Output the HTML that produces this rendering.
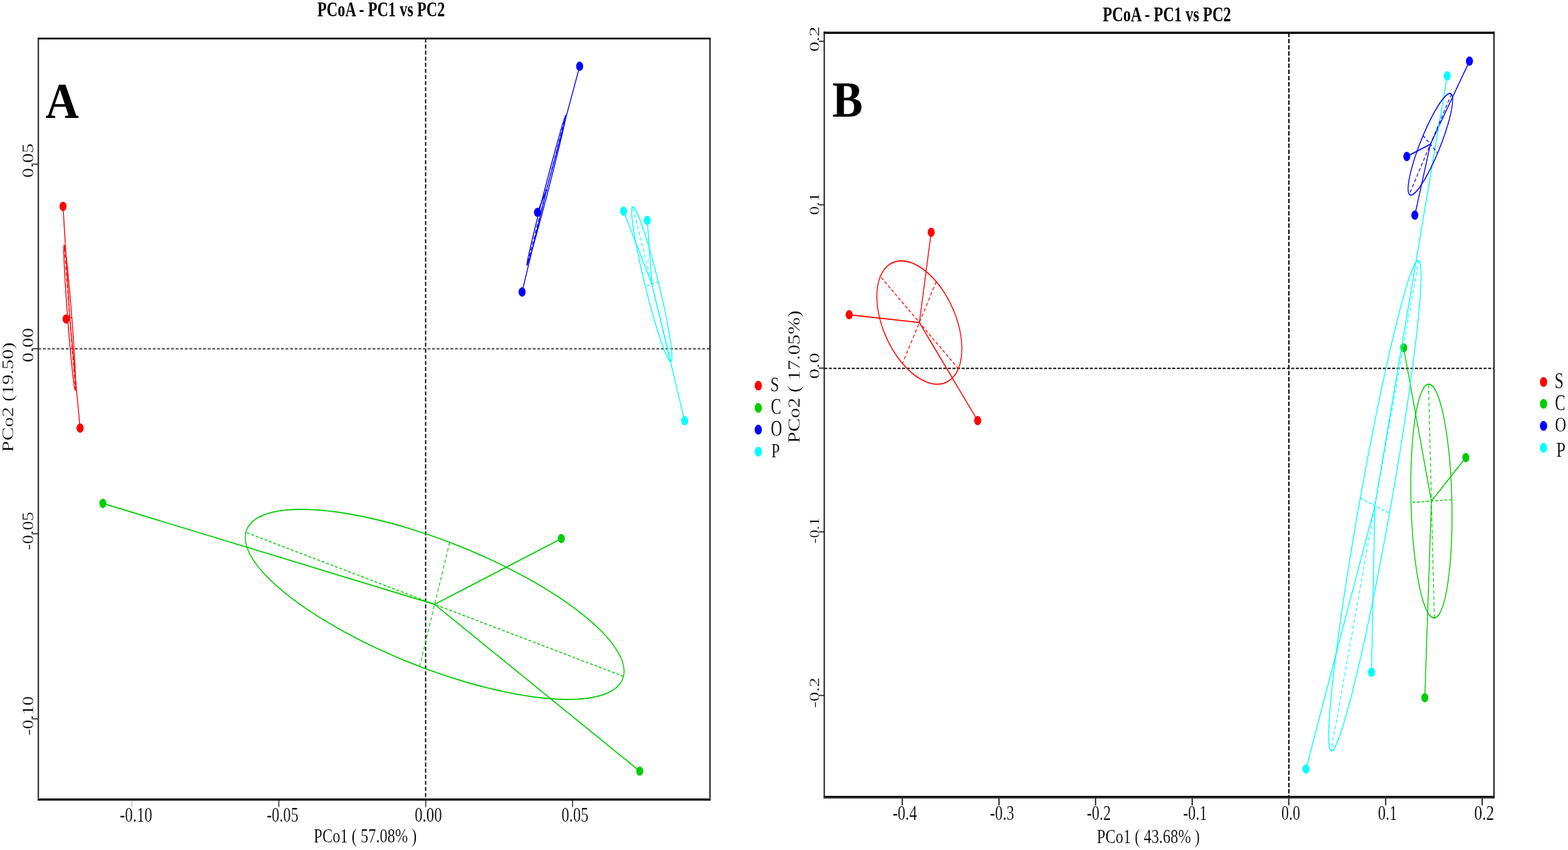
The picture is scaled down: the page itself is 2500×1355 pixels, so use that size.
<!DOCTYPE html>
<html lang="en">
<head>
<meta charset="utf-8">
<title>PCoA - PC1 vs PC2</title>
<style>
html,body{margin:0;padding:0;background:#ffffff;}
body{width:2500px;height:1355px;overflow:hidden;}
svg{display:block;}
</style>
</head>
<body>
<svg width="2500" height="1355" viewBox="0 0 2500 1355">
<rect x="0" y="0" width="2500" height="1355" fill="#ffffff"/>
<g>
<line x1="678.6" y1="61.3" x2="678.6" y2="1274.4" stroke="#000" stroke-width="1.9" stroke-dasharray="6.4 3.3"/>
<line x1="61.1" y1="556.0" x2="1132.0" y2="556.0" stroke="#5c5c5c" stroke-width="2.3" stroke-dasharray="4.5 2.8"/>
<g transform="scale(1 1.32)" fill="none" stroke-width="1.45">
<circle cx="100.5" cy="249.24" r="5.6" fill="#ff0000"/>
<circle cx="105.4" cy="385.30" r="5.6" fill="#ff0000"/>
<circle cx="127.7" cy="517.05" r="5.6" fill="#ff0000"/>
<circle cx="164.0" cy="607.95" r="5.6" fill="#00cd00"/>
<circle cx="895.0" cy="650.45" r="5.6" fill="#00cd00"/>
<circle cx="1020.0" cy="931.29" r="5.6" fill="#00cd00"/>
<circle cx="924.2" cy="80.08" r="5.6" fill="#0000ff"/>
<circle cx="856.9" cy="256.52" r="5.6" fill="#0000ff"/>
<circle cx="832.4" cy="352.65" r="5.6" fill="#0000ff"/>
<circle cx="994.2" cy="255.00" r="5.6" fill="#00ffff"/>
<circle cx="1032.0" cy="266.14" r="5.6" fill="#00ffff"/>
<circle cx="1091.6" cy="508.11" r="5.6" fill="#00ffff"/>
<line x1="111.2" y1="383.86" x2="100.5" y2="249.24" stroke="#ff0000"/>
<line x1="111.2" y1="383.86" x2="105.4" y2="385.30" stroke="#ff0000"/>
<line x1="111.2" y1="383.86" x2="127.7" y2="517.05" stroke="#ff0000"/>
<line x1="693.0" y1="729.90" x2="164.0" y2="607.95" stroke="#00cd00"/>
<line x1="693.0" y1="729.90" x2="895.0" y2="650.45" stroke="#00cd00"/>
<line x1="693.0" y1="729.90" x2="1020.0" y2="931.29" stroke="#00cd00"/>
<line x1="871.2" y1="229.75" x2="924.2" y2="80.08" stroke="#0000ff"/>
<line x1="871.2" y1="229.75" x2="856.9" y2="256.52" stroke="#0000ff"/>
<line x1="871.2" y1="229.75" x2="832.4" y2="352.65" stroke="#0000ff"/>
<line x1="1039.3" y1="343.08" x2="994.2" y2="255.00" stroke="#00ffff"/>
<line x1="1039.3" y1="343.08" x2="1032.0" y2="266.14" stroke="#00ffff"/>
<line x1="1039.3" y1="343.08" x2="1091.6" y2="508.11" stroke="#00ffff"/>
<path d="M120.1 471.33 L120.2 471.20 L120.4 470.82 L120.5 470.21 L120.6 469.36 L120.6 468.27 L120.7 466.96 L120.7 465.41 L120.7 463.64 L120.6 461.66 L120.5 459.46 L120.4 457.05 L120.3 454.45 L120.2 451.65 L120.0 448.66 L119.8 445.50 L119.6 442.16 L119.4 438.67 L119.1 435.03 L118.8 431.25 L118.5 427.33 L118.2 423.30 L117.8 419.16 L117.5 414.92 L117.1 410.60 L116.7 406.21 L116.3 401.75 L115.9 397.24 L115.4 392.70 L115.0 388.14 L114.5 383.56 L114.1 378.98 L113.6 374.42 L113.1 369.88 L112.6 365.38 L112.1 360.93 L111.6 356.54 L111.1 352.23 L110.6 348.01 L110.1 343.88 L109.7 339.86 L109.2 335.97 L108.7 332.20 L108.2 328.58 L107.7 325.11 L107.3 321.80 L106.8 318.66 L106.4 315.70 L106.0 312.92 L105.6 310.34 L105.2 307.96 L104.8 305.79 L104.5 303.83 L104.1 302.10 L103.8 300.58 L103.5 299.30 L103.2 298.24 L103.0 297.43 L102.7 296.84 L102.5 296.50 L102.3 296.40 L102.2 296.53 L102.0 296.91 L101.9 297.52 L101.8 298.37 L101.8 299.46 L101.7 300.77 L101.7 302.32 L101.7 304.08 L101.8 306.07 L101.9 308.27 L102.0 310.67 L102.1 313.28 L102.2 316.08 L102.4 319.07 L102.6 322.23 L102.8 325.56 L103.0 329.06 L103.3 332.70 L103.6 336.48 L103.9 340.40 L104.2 344.43 L104.6 348.57 L104.9 352.80 L105.3 357.13 L105.7 361.52 L106.1 365.98 L106.5 370.48 L107.0 375.03 L107.4 379.59 L107.9 384.17 L108.3 388.75 L108.8 393.31 L109.3 397.85 L109.8 402.35 L110.3 406.80 L110.8 411.18 L111.3 415.49 L111.8 419.72 L112.3 423.85 L112.7 427.86 L113.2 431.76 L113.7 435.52 L114.2 439.15 L114.7 442.62 L115.1 445.93 L115.6 449.07 L116.0 452.03 L116.4 454.81 L116.8 457.39 L117.2 459.77 L117.6 461.94 L117.9 463.89 L118.3 465.63 L118.6 467.14 L118.9 468.43 L119.2 469.48 L119.4 470.30 L119.7 470.88 L119.9 471.23Z" stroke="#ff0000"/>
<line x1="120.1" y1="471.33" x2="102.3" y2="296.40" stroke="#ff0000" stroke-width="1.23" stroke-dasharray="4.4 2.9"/>
<line x1="114.5" y1="383.56" x2="107.9" y2="384.17" stroke="#ff0000" stroke-width="1.23" stroke-dasharray="4.4 2.9"/>
<path d="M994.1 816.84 L994.9 812.80 L994.9 808.53 L994.1 804.05 L992.5 799.36 L990.0 794.49 L986.7 789.43 L982.6 784.22 L977.8 778.85 L972.1 773.35 L965.7 767.73 L958.5 762.01 L950.6 756.20 L942.0 750.32 L932.7 744.38 L922.8 738.40 L912.2 732.40 L901.0 726.39 L889.3 720.39 L877.0 714.42 L864.2 708.49 L851.0 702.62 L837.3 696.82 L823.2 691.11 L808.7 685.51 L794.0 680.04 L778.9 674.69 L763.7 669.50 L748.2 664.48 L732.6 659.63 L716.9 654.98 L701.1 650.53 L685.3 646.30 L669.5 642.30 L653.7 638.54 L638.1 635.03 L622.7 631.78 L607.4 628.80 L592.3 626.10 L577.6 623.68 L563.1 621.55 L549.0 619.72 L535.3 618.19 L522.1 616.96 L509.3 616.05 L497.0 615.45 L485.2 615.16 L474.0 615.19 L463.5 615.53 L453.5 616.18 L444.2 617.15 L435.6 618.42 L427.7 620.00 L420.5 621.89 L414.0 624.06 L408.4 626.53 L403.5 629.28 L399.4 632.31 L396.1 635.60 L393.6 639.16 L391.9 642.96 L391.1 647.00 L391.1 651.27 L391.9 655.75 L393.5 660.44 L396.0 665.31 L399.3 670.37 L403.4 675.58 L408.2 680.95 L413.9 686.45 L420.3 692.07 L427.5 697.79 L435.4 703.60 L444.0 709.48 L453.3 715.42 L463.2 721.40 L473.8 727.40 L485.0 733.41 L496.7 739.41 L509.0 745.38 L521.8 751.31 L535.0 757.18 L548.7 762.98 L562.8 768.68 L577.3 774.28 L592.0 779.76 L607.1 785.10 L622.3 790.29 L637.8 795.32 L653.4 800.16 L669.1 804.82 L684.9 809.26 L700.7 813.49 L716.5 817.49 L732.3 821.25 L747.9 824.77 L763.3 828.02 L778.6 831.00 L793.7 833.70 L808.4 836.12 L822.9 838.25 L837.0 840.08 L850.7 841.61 L863.9 842.83 L876.7 843.75 L889.0 844.35 L900.8 844.64 L912.0 844.61 L922.5 844.27 L932.5 843.62 L941.8 842.65 L950.4 841.37 L958.3 839.79 L965.5 837.91 L972.0 835.73 L977.6 833.27 L982.5 830.51 L986.6 827.49 L989.9 824.19 L992.4 820.64Z" stroke="#00cd00"/>
<line x1="994.1" y1="816.84" x2="391.9" y2="642.96" stroke="#00cd00" stroke-width="1.23" stroke-dasharray="4.4 2.9"/>
<line x1="716.9" y1="654.98" x2="669.1" y2="804.82" stroke="#00cd00" stroke-width="1.23" stroke-dasharray="4.4 2.9"/>
<path d="M902.1 139.45 L901.9 139.53 L901.7 139.86 L901.3 140.43 L900.9 141.25 L900.4 142.31 L899.8 143.62 L899.1 145.15 L898.4 146.92 L897.5 148.92 L896.6 151.14 L895.7 153.57 L894.6 156.21 L893.5 159.06 L892.4 162.09 L891.2 165.32 L889.9 168.72 L888.6 172.28 L887.2 176.01 L885.8 179.88 L884.3 183.89 L882.9 188.02 L881.3 192.27 L879.8 196.62 L878.2 201.06 L876.6 205.58 L875.0 210.17 L873.4 214.81 L871.8 219.49 L870.1 224.20 L868.5 228.93 L866.9 233.65 L865.3 238.37 L863.7 243.06 L862.1 247.72 L860.6 252.32 L859.1 256.87 L857.6 261.34 L856.2 265.72 L854.8 270.01 L853.4 274.18 L852.1 278.24 L850.8 282.16 L849.6 285.93 L848.5 289.56 L847.4 293.02 L846.4 296.30 L845.5 299.40 L844.6 302.32 L843.8 305.03 L843.1 307.54 L842.4 309.83 L841.8 311.90 L841.3 313.75 L840.9 315.37 L840.6 316.76 L840.4 317.90 L840.2 318.80 L840.1 319.46 L840.1 319.88 L840.2 320.05 L840.4 319.96 L840.7 319.64 L841.0 319.06 L841.5 318.24 L842.0 317.18 L842.6 315.88 L843.2 314.34 L844.0 312.57 L844.8 310.58 L845.7 308.36 L846.7 305.93 L847.7 303.28 L848.8 300.44 L849.9 297.40 L851.2 294.18 L852.4 290.78 L853.8 287.21 L855.1 283.49 L856.5 279.62 L858.0 275.61 L859.5 271.47 L861.0 267.23 L862.6 262.87 L864.1 258.43 L865.7 253.91 L867.3 249.33 L868.9 244.69 L870.6 240.00 L872.2 235.29 L873.8 230.57 L875.4 225.84 L877.0 221.13 L878.6 216.43 L880.2 211.78 L881.7 207.17 L883.2 202.63 L884.7 198.16 L886.2 193.77 L887.6 189.49 L888.9 185.31 L890.2 181.26 L891.5 177.34 L892.7 173.56 L893.8 169.94 L894.9 166.48 L895.9 163.19 L896.9 160.09 L897.8 157.18 L898.6 154.47 L899.3 151.96 L899.9 149.66 L900.5 147.59 L901.0 145.74 L901.4 144.12 L901.7 142.74 L902.0 141.59 L902.1 140.69 L902.2 140.03 L902.2 139.62Z" stroke="#0000ff"/>
<line x1="902.1" y1="139.45" x2="840.2" y2="320.05" stroke="#0000ff" stroke-width="1.23" stroke-dasharray="4.4 2.9"/>
<line x1="868.5" y1="228.93" x2="873.8" y2="230.57" stroke="#0000ff" stroke-width="1.23" stroke-dasharray="4.4 2.9"/>
<path d="M1069.7 436.46 L1070.2 436.17 L1070.6 435.63 L1070.9 434.83 L1071.1 433.79 L1071.3 432.49 L1071.3 430.95 L1071.3 429.17 L1071.2 427.16 L1071.0 424.91 L1070.7 422.44 L1070.3 419.75 L1069.9 416.85 L1069.3 413.75 L1068.7 410.46 L1068.0 406.98 L1067.2 403.32 L1066.3 399.50 L1065.4 395.53 L1064.4 391.41 L1063.3 387.16 L1062.2 382.79 L1061.0 378.31 L1059.7 373.73 L1058.4 369.07 L1057.0 364.34 L1055.6 359.55 L1054.1 354.71 L1052.6 349.84 L1051.1 344.96 L1049.5 340.07 L1047.9 335.18 L1046.2 330.32 L1044.6 325.50 L1042.9 320.72 L1041.3 316.00 L1039.6 311.36 L1037.9 306.81 L1036.2 302.35 L1034.6 298.00 L1032.9 293.78 L1031.3 289.70 L1029.7 285.76 L1028.1 281.98 L1026.5 278.36 L1025.0 274.92 L1023.5 271.67 L1022.1 268.62 L1020.7 265.77 L1019.3 263.13 L1018.0 260.71 L1016.8 258.52 L1015.6 256.55 L1014.5 254.83 L1013.5 253.35 L1012.5 252.11 L1011.6 251.12 L1010.8 250.38 L1010.1 249.90 L1009.4 249.68 L1008.9 249.71 L1008.4 249.99 L1008.0 250.53 L1007.6 251.33 L1007.4 252.37 L1007.3 253.67 L1007.2 255.21 L1007.2 256.99 L1007.3 259.00 L1007.5 261.25 L1007.8 263.72 L1008.2 266.41 L1008.7 269.31 L1009.2 272.41 L1009.8 275.71 L1010.5 279.19 L1011.3 282.84 L1012.2 286.66 L1013.1 290.63 L1014.1 294.75 L1015.2 299.00 L1016.4 303.37 L1017.6 307.85 L1018.8 312.43 L1020.2 317.09 L1021.5 321.82 L1023.0 326.61 L1024.4 331.45 L1025.9 336.32 L1027.5 341.20 L1029.1 346.09 L1030.7 350.98 L1032.3 355.84 L1033.9 360.66 L1035.6 365.44 L1037.3 370.16 L1039.0 374.80 L1040.6 379.36 L1042.3 383.81 L1044.0 388.16 L1045.6 392.38 L1047.3 396.46 L1048.9 400.40 L1050.5 404.19 L1052.0 407.80 L1053.5 411.24 L1055.0 414.49 L1056.5 417.54 L1057.9 420.39 L1059.2 423.03 L1060.5 425.45 L1061.7 427.65 L1062.9 429.61 L1064.0 431.33 L1065.0 432.82 L1066.0 434.05 L1066.9 435.04 L1067.7 435.78 L1068.4 436.26 L1069.1 436.49Z" stroke="#00ffff"/>
<line x1="1069.7" y1="436.46" x2="1008.9" y2="249.71" stroke="#00ffff" stroke-width="1.23" stroke-dasharray="4.4 2.9"/>
<line x1="1049.5" y1="340.07" x2="1029.1" y2="346.09" stroke="#00ffff" stroke-width="1.23" stroke-dasharray="4.4 2.9"/>
</g>
<line x1="61.1" y1="60.0" x2="61.1" y2="1276.2" stroke="#333" stroke-width="2.3"/>
<line x1="1132.0" y1="60.0" x2="1132.0" y2="1276.2" stroke="#1c1c1c" stroke-width="2.1"/>
<line x1="60.1" y1="61.3" x2="1133.1" y2="61.3" stroke="#000" stroke-width="2.8"/>
<line x1="60.1" y1="1272.7" x2="1133.1" y2="1272.7" stroke="#808080" stroke-width="1.4"/>
<line x1="60.1" y1="1274.9" x2="1133.1" y2="1274.9" stroke="#000" stroke-width="2.8"/>
<line x1="210.3" y1="1276" x2="210.3" y2="1286.6" stroke="#c4c4c4" stroke-width="1.6"/>
<line x1="444.6" y1="1276" x2="444.6" y2="1286.6" stroke="#333" stroke-width="1.6"/>
<line x1="678.7" y1="1276" x2="678.7" y2="1286.6" stroke="#333" stroke-width="1.6"/>
<line x1="912.8" y1="1276" x2="912.8" y2="1286.6" stroke="#333" stroke-width="1.6"/>
<line x1="50.5" y1="261.6" x2="61" y2="261.6" stroke="#333" stroke-width="1.8"/>
<line x1="50.5" y1="555.8" x2="61" y2="555.8" stroke="#333" stroke-width="1.8"/>
<line x1="50.5" y1="850.9" x2="61" y2="850.9" stroke="#333" stroke-width="1.8"/>
<line x1="50.5" y1="1145.9" x2="61" y2="1145.9" stroke="#333" stroke-width="1.8"/>
<ellipse cx="1209" cy="614.8" rx="5.8" ry="7.8" fill="#ff0000"/>
<ellipse cx="1209" cy="650.2" rx="5.8" ry="7.8" fill="#00cd00"/>
<ellipse cx="1209" cy="684.9" rx="5.8" ry="7.8" fill="#0000ff"/>
<ellipse cx="1209" cy="720.1" rx="5.8" ry="7.8" fill="#00ffff"/>
</g>
<g>
<line x1="2055.0" y1="52.3" x2="2055.0" y2="1271.0" stroke="#000" stroke-width="2.0" stroke-dasharray="7 2.8"/>
<line x1="1314.2" y1="587.2" x2="2382.0" y2="587.2" stroke="#000" stroke-width="2.0" stroke-dasharray="4.8 2.5"/>
<g transform="scale(1 1.32)" fill="none" stroke-width="1.45">
<circle cx="1484.7" cy="280.53" r="5.6" fill="#ff0000"/>
<circle cx="1353.9" cy="380.08" r="5.6" fill="#ff0000"/>
<circle cx="1558.8" cy="507.95" r="5.6" fill="#ff0000"/>
<circle cx="2238.0" cy="420.15" r="5.6" fill="#00cd00"/>
<circle cx="2337.0" cy="552.58" r="5.6" fill="#00cd00"/>
<circle cx="2271.7" cy="842.65" r="5.6" fill="#00cd00"/>
<circle cx="2342.9" cy="73.79" r="5.6" fill="#0000ff"/>
<circle cx="2243.0" cy="189.02" r="5.6" fill="#0000ff"/>
<circle cx="2255.8" cy="259.85" r="5.6" fill="#0000ff"/>
<circle cx="2307.4" cy="91.67" r="5.6" fill="#00ffff"/>
<circle cx="2186.7" cy="811.89" r="5.6" fill="#00ffff"/>
<circle cx="2082.2" cy="928.71" r="5.6" fill="#00ffff"/>
<line x1="1465.8" y1="389.52" x2="1484.7" y2="280.53" stroke="#ff0000"/>
<line x1="1465.8" y1="389.52" x2="1353.9" y2="380.08" stroke="#ff0000"/>
<line x1="1465.8" y1="389.52" x2="1558.8" y2="507.95" stroke="#ff0000"/>
<line x1="2282.2" y1="605.13" x2="2238.0" y2="420.15" stroke="#00cd00"/>
<line x1="2282.2" y1="605.13" x2="2337.0" y2="552.58" stroke="#00cd00"/>
<line x1="2282.2" y1="605.13" x2="2271.7" y2="842.65" stroke="#00cd00"/>
<line x1="2280.6" y1="174.22" x2="2342.9" y2="73.79" stroke="#0000ff"/>
<line x1="2280.6" y1="174.22" x2="2243.0" y2="189.02" stroke="#0000ff"/>
<line x1="2280.6" y1="174.22" x2="2255.8" y2="259.85" stroke="#0000ff"/>
<line x1="2192.1" y1="610.76" x2="2307.4" y2="91.67" stroke="#00ffff"/>
<line x1="2192.1" y1="610.76" x2="2186.7" y2="811.89" stroke="#00ffff"/>
<line x1="2192.1" y1="610.76" x2="2082.2" y2="928.71" stroke="#00ffff"/>
<path d="M1528.0 445.27 L1529.3 442.61 L1530.5 439.80 L1531.4 436.86 L1532.2 433.78 L1532.8 430.59 L1533.3 427.28 L1533.5 423.87 L1533.6 420.37 L1533.4 416.78 L1533.1 413.11 L1532.6 409.38 L1531.9 405.60 L1531.1 401.77 L1530.0 397.91 L1528.8 394.03 L1527.4 390.13 L1525.9 386.23 L1524.2 382.34 L1522.3 378.47 L1520.2 374.63 L1518.0 370.84 L1515.7 367.09 L1513.2 363.40 L1510.6 359.79 L1507.9 356.26 L1505.1 352.82 L1502.1 349.47 L1499.1 346.24 L1496.0 343.13 L1492.7 340.15 L1489.5 337.30 L1486.1 334.59 L1482.7 332.03 L1479.2 329.63 L1475.7 327.40 L1472.2 325.34 L1468.7 323.45 L1465.1 321.74 L1461.6 320.22 L1458.0 318.89 L1454.5 317.75 L1451.1 316.81 L1447.6 316.07 L1444.2 315.53 L1440.9 315.19 L1437.6 315.05 L1434.4 315.12 L1431.3 315.40 L1428.3 315.88 L1425.4 316.55 L1422.6 317.43 L1420.0 318.51 L1417.4 319.78 L1415.0 321.24 L1412.7 322.89 L1410.6 324.73 L1408.6 326.74 L1406.8 328.92 L1405.1 331.27 L1403.6 333.77 L1402.3 336.43 L1401.1 339.24 L1400.2 342.18 L1399.4 345.26 L1398.8 348.45 L1398.3 351.76 L1398.1 355.17 L1398.0 358.68 L1398.2 362.26 L1398.5 365.93 L1399.0 369.66 L1399.7 373.44 L1400.5 377.27 L1401.6 381.13 L1402.8 385.01 L1404.2 388.91 L1405.7 392.81 L1407.4 396.70 L1409.3 400.57 L1411.4 404.41 L1413.6 408.20 L1415.9 411.95 L1418.4 415.64 L1421.0 419.25 L1423.7 422.78 L1426.5 426.23 L1429.5 429.57 L1432.5 432.80 L1435.6 435.91 L1438.9 438.89 L1442.1 441.74 L1445.5 444.45 L1448.9 447.01 L1452.4 449.41 L1455.9 451.64 L1459.4 453.70 L1462.9 455.59 L1466.5 457.30 L1470.0 458.82 L1473.6 460.15 L1477.1 461.29 L1480.5 462.23 L1484.0 462.97 L1487.4 463.51 L1490.7 463.85 L1494.0 463.99 L1497.2 463.92 L1500.3 463.64 L1503.3 463.16 L1506.2 462.49 L1509.0 461.61 L1511.6 460.53 L1514.2 459.26 L1516.6 457.80 L1518.9 456.15 L1521.0 454.31 L1523.0 452.30 L1524.8 450.12 L1526.5 447.77Z" stroke="#ff0000"/>
<line x1="1528.0" y1="445.27" x2="1403.6" y2="333.77" stroke="#ff0000" stroke-width="1.23" stroke-dasharray="4.4 2.9"/>
<line x1="1492.7" y1="340.15" x2="1438.9" y2="438.89" stroke="#ff0000" stroke-width="1.23" stroke-dasharray="4.4 2.9"/>
<path d="M2286.9 746.27 L2288.6 745.98 L2290.3 745.31 L2291.9 744.26 L2293.5 742.82 L2295.1 741.00 L2296.7 738.82 L2298.2 736.26 L2299.7 733.35 L2301.1 730.09 L2302.5 726.48 L2303.9 722.54 L2305.1 718.28 L2306.3 713.71 L2307.5 708.84 L2308.5 703.69 L2309.5 698.26 L2310.4 692.58 L2311.3 686.67 L2312.1 680.52 L2312.7 674.18 L2313.3 667.64 L2313.9 660.93 L2314.3 654.07 L2314.6 647.07 L2314.9 639.96 L2315.0 632.75 L2315.1 625.47 L2315.1 618.13 L2315.0 610.76 L2314.8 603.37 L2314.5 595.98 L2314.1 588.62 L2313.7 581.31 L2313.1 574.06 L2312.5 566.90 L2311.8 559.84 L2311.0 552.90 L2310.1 546.11 L2309.1 539.48 L2308.1 533.03 L2307.0 526.78 L2305.8 520.74 L2304.6 514.94 L2303.3 509.38 L2302.0 504.08 L2300.6 499.06 L2299.1 494.33 L2297.6 489.91 L2296.1 485.80 L2294.5 482.01 L2292.9 478.57 L2291.2 475.47 L2289.6 472.73 L2287.9 470.35 L2286.2 468.34 L2284.5 466.70 L2282.7 465.45 L2281.0 464.57 L2279.3 464.08 L2277.6 463.98 L2275.9 464.27 L2274.2 464.94 L2272.6 466.00 L2270.9 467.43 L2269.3 469.25 L2267.8 471.43 L2266.2 473.99 L2264.8 476.90 L2263.3 480.17 L2261.9 483.77 L2260.6 487.71 L2259.3 491.97 L2258.1 496.54 L2257.0 501.41 L2255.9 506.57 L2254.9 511.99 L2254.0 517.67 L2253.2 523.59 L2252.4 529.73 L2251.7 536.08 L2251.1 542.62 L2250.6 549.32 L2250.2 556.19 L2249.8 563.18 L2249.6 570.29 L2249.4 577.50 L2249.4 584.78 L2249.4 592.12 L2249.5 599.49 L2249.7 606.88 L2250.0 614.27 L2250.3 621.63 L2250.8 628.94 L2251.4 636.19 L2252.0 643.35 L2252.7 650.41 L2253.5 657.35 L2254.4 664.14 L2255.3 670.77 L2256.4 677.22 L2257.5 683.47 L2258.6 689.51 L2259.9 695.32 L2261.2 700.88 L2262.5 706.17 L2263.9 711.19 L2265.4 715.92 L2266.9 720.35 L2268.4 724.46 L2270.0 728.24 L2271.6 731.68 L2273.2 734.78 L2274.9 737.52 L2276.6 739.90 L2278.3 741.91 L2280.0 743.55 L2281.7 744.81 L2283.4 745.68 L2285.2 746.17Z" stroke="#00cd00"/>
<line x1="2286.9" y1="746.27" x2="2277.6" y2="463.98" stroke="#00cd00" stroke-width="1.23" stroke-dasharray="4.4 2.9"/>
<line x1="2314.8" y1="603.37" x2="2249.7" y2="606.88" stroke="#00cd00" stroke-width="1.23" stroke-dasharray="4.4 2.9"/>
<path d="M2314.1 113.79 L2313.5 113.32 L2312.7 113.02 L2311.9 112.88 L2311.0 112.92 L2310.0 113.12 L2308.9 113.49 L2307.8 114.02 L2306.5 114.72 L2305.2 115.59 L2303.9 116.61 L2302.4 117.79 L2300.9 119.13 L2299.4 120.61 L2297.8 122.25 L2296.1 124.03 L2294.4 125.94 L2292.7 127.99 L2290.9 130.16 L2289.2 132.45 L2287.3 134.86 L2285.5 137.38 L2283.7 140.00 L2281.8 142.71 L2279.9 145.51 L2278.1 148.38 L2276.2 151.33 L2274.4 154.34 L2272.6 157.40 L2270.8 160.51 L2269.0 163.66 L2267.3 166.84 L2265.6 170.04 L2263.9 173.24 L2262.3 176.46 L2260.7 179.66 L2259.2 182.85 L2257.7 186.02 L2256.3 189.15 L2255.0 192.25 L2253.8 195.29 L2252.6 198.28 L2251.5 201.20 L2250.5 204.04 L2249.5 206.81 L2248.6 209.48 L2247.9 212.06 L2247.2 214.53 L2246.6 216.90 L2246.1 219.15 L2245.7 221.27 L2245.4 223.27 L2245.2 225.13 L2245.1 226.85 L2245.1 228.42 L2245.1 229.85 L2245.3 231.13 L2245.6 232.25 L2246.0 233.21 L2246.4 234.01 L2247.0 234.64 L2247.6 235.11 L2248.4 235.42 L2249.2 235.55 L2250.1 235.52 L2251.1 235.32 L2252.2 234.95 L2253.4 234.41 L2254.6 233.71 L2255.9 232.85 L2257.3 231.83 L2258.7 230.64 L2260.2 229.31 L2261.8 227.82 L2263.4 226.19 L2265.0 224.41 L2266.7 222.49 L2268.4 220.45 L2270.2 218.27 L2272.0 215.98 L2273.8 213.57 L2275.6 211.05 L2277.5 208.44 L2279.3 205.73 L2281.2 202.93 L2283.0 200.05 L2284.9 197.10 L2286.7 194.09 L2288.6 191.03 L2290.4 187.92 L2292.1 184.77 L2293.9 181.60 L2295.6 178.40 L2297.2 175.19 L2298.9 171.98 L2300.4 168.77 L2301.9 165.58 L2303.4 162.42 L2304.8 159.28 L2306.1 156.19 L2307.4 153.14 L2308.6 150.16 L2309.7 147.24 L2310.7 144.39 L2311.6 141.63 L2312.5 138.95 L2313.3 136.37 L2313.9 133.90 L2314.5 131.54 L2315.0 129.29 L2315.4 127.16 L2315.7 125.17 L2315.9 123.31 L2316.1 121.59 L2316.1 120.01 L2316.0 118.58 L2315.8 117.31 L2315.5 116.19 L2315.2 115.23 L2314.7 114.43Z" stroke="#0000ff"/>
<line x1="2314.1" y1="113.79" x2="2247.0" y2="234.64" stroke="#0000ff" stroke-width="1.23" stroke-dasharray="4.4 2.9"/>
<line x1="2269.0" y1="163.66" x2="2292.1" y2="184.77" stroke="#0000ff" stroke-width="1.23" stroke-dasharray="4.4 2.9"/>
<path d="M2261.9 314.79 L2260.6 314.72 L2259.1 315.46 L2257.4 317.02 L2255.5 319.37 L2253.5 322.53 L2251.3 326.48 L2248.9 331.20 L2246.4 336.70 L2243.7 342.94 L2240.9 349.92 L2238.0 357.61 L2234.9 366.00 L2231.7 375.06 L2228.4 384.76 L2225.0 395.08 L2221.5 406.00 L2217.9 417.47 L2214.3 429.48 L2210.6 441.98 L2206.8 454.95 L2203.0 468.34 L2199.2 482.12 L2195.3 496.25 L2191.5 510.70 L2187.6 525.43 L2183.8 540.38 L2180.0 555.53 L2176.2 570.83 L2172.5 586.24 L2168.8 601.72 L2165.2 617.22 L2161.6 632.71 L2158.1 648.13 L2154.8 663.45 L2151.5 678.63 L2148.3 693.62 L2145.3 708.39 L2142.4 722.88 L2139.6 737.07 L2137.0 750.92 L2134.5 764.38 L2132.2 777.41 L2130.0 790.00 L2128.0 802.09 L2126.2 813.65 L2124.6 824.66 L2123.2 835.08 L2121.9 844.89 L2120.8 854.06 L2120.0 862.56 L2119.3 870.37 L2118.8 877.47 L2118.6 883.83 L2118.5 889.45 L2118.6 894.31 L2119.0 898.38 L2119.5 901.67 L2120.2 904.16 L2121.2 905.85 L2122.3 906.73 L2123.6 906.80 L2125.1 906.05 L2126.8 904.50 L2128.7 902.14 L2130.7 898.98 L2132.9 895.04 L2135.3 890.31 L2137.8 884.82 L2140.5 878.57 L2143.3 871.60 L2146.2 863.90 L2149.3 855.52 L2152.5 846.46 L2155.8 836.75 L2159.2 826.43 L2162.7 815.52 L2166.3 804.04 L2169.9 792.04 L2173.6 779.53 L2177.4 766.57 L2181.2 753.18 L2185.0 739.40 L2188.9 725.26 L2192.7 710.81 L2196.6 696.09 L2200.4 681.13 L2204.2 665.98 L2208.0 650.68 L2211.7 635.27 L2215.4 619.79 L2219.0 604.29 L2222.6 588.81 L2226.1 573.38 L2229.4 558.06 L2232.7 542.88 L2235.9 527.89 L2238.9 513.13 L2241.8 498.63 L2244.6 484.44 L2247.2 470.60 L2249.7 457.14 L2252.0 444.10 L2254.2 431.52 L2256.2 419.43 L2258.0 407.86 L2259.6 396.85 L2261.0 386.43 L2262.3 376.62 L2263.4 367.46 L2264.2 358.96 L2264.9 351.15 L2265.4 344.05 L2265.6 337.68 L2265.7 332.06 L2265.6 327.21 L2265.2 323.13 L2264.7 319.84 L2264.0 317.35 L2263.0 315.66Z" stroke="#00ffff"/>
<line x1="2261.9" y1="314.79" x2="2122.3" y2="906.73" stroke="#00ffff" stroke-width="1.23" stroke-dasharray="4.4 2.9"/>
<line x1="2168.8" y1="601.72" x2="2215.4" y2="619.79" stroke="#00ffff" stroke-width="1.23" stroke-dasharray="4.4 2.9"/>
</g>
<line x1="1314.2" y1="50.4" x2="1314.2" y2="1273.0" stroke="#222" stroke-width="2.1"/>
<line x1="2382.0" y1="50.4" x2="2382.0" y2="1273.0" stroke="#1a1a1a" stroke-width="2.1"/>
<line x1="1313.2" y1="52.3" x2="2383.1" y2="52.3" stroke="#000" stroke-width="3.4"/>
<line x1="1313.2" y1="1270.1" x2="2383.1" y2="1270.1" stroke="#000" stroke-width="2.6"/>
<line x1="1313.2" y1="1272.2" x2="2383.1" y2="1272.2" stroke="#3a3a3a" stroke-width="1.7"/>
<line x1="1438.6" y1="1273" x2="1438.6" y2="1283.8" stroke="#1a1a1a" stroke-width="1.9"/>
<line x1="1592.8" y1="1273" x2="1592.8" y2="1283.8" stroke="#1a1a1a" stroke-width="1.9"/>
<line x1="1746.7" y1="1273" x2="1746.7" y2="1283.8" stroke="#1a1a1a" stroke-width="1.9"/>
<line x1="1900.8" y1="1273" x2="1900.8" y2="1283.8" stroke="#1a1a1a" stroke-width="1.9"/>
<line x1="2054.8" y1="1273" x2="2054.8" y2="1283.8" stroke="#1a1a1a" stroke-width="1.9"/>
<line x1="2209.3" y1="1273" x2="2209.3" y2="1283.8" stroke="#1a1a1a" stroke-width="1.9"/>
<line x1="2363.2" y1="1273" x2="2363.2" y2="1283.8" stroke="#1a1a1a" stroke-width="1.9"/>
<line x1="1305.5" y1="65.8" x2="1314" y2="65.8" stroke="#222" stroke-width="1.8"/>
<line x1="1305.5" y1="326.5" x2="1314" y2="326.5" stroke="#222" stroke-width="1.8"/>
<line x1="1305.5" y1="586.8" x2="1314" y2="586.8" stroke="#222" stroke-width="1.8"/>
<line x1="1305.5" y1="847.8" x2="1314" y2="847.8" stroke="#222" stroke-width="1.8"/>
<line x1="1305.5" y1="1108.6" x2="1314" y2="1108.6" stroke="#222" stroke-width="1.8"/>
<ellipse cx="2461" cy="608.9" rx="5.8" ry="7.8" fill="#ff0000"/>
<ellipse cx="2461" cy="643.7" rx="5.8" ry="7.8" fill="#00cd00"/>
<ellipse cx="2461" cy="678.9" rx="5.8" ry="7.8" fill="#0000ff"/>
<ellipse cx="2461" cy="713.9" rx="5.8" ry="7.8" fill="#00ffff"/>
</g>
<g font-family="Liberation Serif, serif">
<text transform="matrix(0.24262 0 0 0.34046 505.936 26.100)" font-size="100" font-weight="bold" fill="#000" xml:space="preserve">PCoA - PC1 vs PC2</text>
<text transform="matrix(0 -0.32493 0.25038 0 21.000 720.675)" font-size="100" fill="#000" stroke="#fff" stroke-width="0.3" vector-effect="non-scaling-stroke" xml:space="preserve">PCo2 (19.50)</text>
<text transform="matrix(0 -0.31317 0.24444 0 52.756 283.253)" font-size="100" fill="#000" stroke="#fff" stroke-width="0.3" vector-effect="non-scaling-stroke" xml:space="preserve">0.05</text>
<text transform="matrix(0 -0.31317 0.24444 0 52.756 577.453)" font-size="100" fill="#000" stroke="#fff" stroke-width="0.3" vector-effect="non-scaling-stroke" xml:space="preserve">0.00</text>
<text transform="matrix(0 -0.29353 0.24444 0 52.756 877.027)" font-size="100" fill="#000" stroke="#fff" stroke-width="0.3" vector-effect="non-scaling-stroke" xml:space="preserve">-0.05</text>
<text transform="matrix(0 -0.29950 0.24444 0 52.756 1172.248)" font-size="100" fill="#000" stroke="#fff" stroke-width="0.3" vector-effect="non-scaling-stroke" xml:space="preserve">-0.10</text>
<text transform="matrix(0.24925 0 0 0.33185 190.928 1310.468)" font-size="100" fill="#000" stroke="#fff" stroke-width="0.2" vector-effect="non-scaling-stroke" xml:space="preserve">-0.10</text>
<text transform="matrix(0.24279 0 0 0.33185 425.250 1310.468)" font-size="100" fill="#000" stroke="#fff" stroke-width="0.2" vector-effect="non-scaling-stroke" xml:space="preserve">-0.05</text>
<text transform="matrix(0.24850 0 0 0.33185 661.206 1310.468)" font-size="100" fill="#000" stroke="#fff" stroke-width="0.2" vector-effect="non-scaling-stroke" xml:space="preserve">0.00</text>
<text transform="matrix(0.24491 0 0 0.33185 895.320 1310.468)" font-size="100" fill="#000" stroke="#fff" stroke-width="0.2" vector-effect="non-scaling-stroke" xml:space="preserve">0.05</text>
<text transform="matrix(0.24421 0 0 0.32214 500.367 1342.500)" font-size="100" fill="#000" stroke="#fff" stroke-width="0.2" vector-effect="non-scaling-stroke" xml:space="preserve">PCo1 ( 57.08% )</text>
<text transform="matrix(0.25116 0 0 0.33134 1228.367 624.369)" font-size="100" fill="#000" stroke="#fff" stroke-width="0.2" vector-effect="non-scaling-stroke" xml:space="preserve">S</text>
<text transform="matrix(0.24912 0 0 0.34776 1229.004 659.552)" font-size="100" fill="#000" stroke="#fff" stroke-width="0.2" vector-effect="non-scaling-stroke" xml:space="preserve">C</text>
<text transform="matrix(0.24844 0 0 0.34776 1229.006 694.752)" font-size="100" fill="#000" stroke="#fff" stroke-width="0.2" vector-effect="non-scaling-stroke" xml:space="preserve">O</text>
<text transform="matrix(0.24536 0 0 0.32519 1229.864 728.900)" font-size="100" fill="#000" stroke="#fff" stroke-width="0.2" vector-effect="non-scaling-stroke" xml:space="preserve">P</text>
<text transform="matrix(0.24382 0 0 0.33740 1758.334 33.600)" font-size="100" font-weight="bold" fill="#000" xml:space="preserve">PCoA - PC1 vs PC2</text>
<text transform="matrix(0 -0.32687 0.27786 0 1274.500 706.481)" font-size="100" fill="#000" stroke="#fff" stroke-width="0.3" vector-effect="non-scaling-stroke" xml:space="preserve">PCo2 ( 17.05%)</text>
<text transform="matrix(0 -0.32641 0.23111 0 1306.069 82.606)" font-size="100" fill="#000" stroke="#fff" stroke-width="0.3" vector-effect="non-scaling-stroke" xml:space="preserve">0.2</text>
<text transform="matrix(0 -0.28174 0.23111 0 1306.069 342.727)" font-size="100" fill="#000" stroke="#fff" stroke-width="0.3" vector-effect="non-scaling-stroke" xml:space="preserve">0.1</text>
<text transform="matrix(0 -0.33590 0.23111 0 1306.069 604.144)" font-size="100" fill="#000" stroke="#fff" stroke-width="0.3" vector-effect="non-scaling-stroke" xml:space="preserve">0.0</text>
<text transform="matrix(0 -0.26330 0.23111 0 1306.069 866.622)" font-size="100" fill="#000" stroke="#fff" stroke-width="0.3" vector-effect="non-scaling-stroke" xml:space="preserve">-0.1</text>
<text transform="matrix(0 -0.30671 0.23111 0 1306.069 1128.573)" font-size="100" fill="#000" stroke="#fff" stroke-width="0.3" vector-effect="non-scaling-stroke" xml:space="preserve">-0.2</text>
<text transform="matrix(0.24575 0 0 0.33185 1423.140 1307.468)" font-size="100" fill="#000" stroke="#fff" stroke-width="0.2" vector-effect="non-scaling-stroke" xml:space="preserve">-0.4</text>
<text transform="matrix(0.24371 0 0 0.33185 1578.347 1307.468)" font-size="100" fill="#000" stroke="#fff" stroke-width="0.2" vector-effect="non-scaling-stroke" xml:space="preserve">-0.3</text>
<text transform="matrix(0.24362 0 0 0.33185 1732.747 1307.468)" font-size="100" fill="#000" stroke="#fff" stroke-width="0.2" vector-effect="non-scaling-stroke" xml:space="preserve">-0.2</text>
<text transform="matrix(0.24040 0 0 0.33185 1886.359 1307.468)" font-size="100" fill="#000" stroke="#fff" stroke-width="0.2" vector-effect="non-scaling-stroke" xml:space="preserve">-0.1</text>
<text transform="matrix(0.23932 0 0 0.33185 2043.043 1307.468)" font-size="100" fill="#000" stroke="#fff" stroke-width="0.2" vector-effect="non-scaling-stroke" xml:space="preserve">0.0</text>
<text transform="matrix(0.24522 0 0 0.33185 2196.919 1307.468)" font-size="100" fill="#000" stroke="#fff" stroke-width="0.2" vector-effect="non-scaling-stroke" xml:space="preserve">0.1</text>
<text transform="matrix(0.25368 0 0 0.33185 2350.485 1307.468)" font-size="100" fill="#000" stroke="#fff" stroke-width="0.2" vector-effect="non-scaling-stroke" xml:space="preserve">0.2</text>
<text transform="matrix(0.24421 0 0 0.31756 1748.867 1343.800)" font-size="100" fill="#000" stroke="#fff" stroke-width="0.2" vector-effect="non-scaling-stroke" xml:space="preserve">PCo1 ( 43.68% )</text>
<text transform="matrix(0.26047 0 0 0.35224 2478.507 618.548)" font-size="100" fill="#000" stroke="#fff" stroke-width="0.2" vector-effect="non-scaling-stroke" xml:space="preserve">S</text>
<text transform="matrix(0.24737 0 0 0.36119 2479.211 653.939)" font-size="100" fill="#000" stroke="#fff" stroke-width="0.2" vector-effect="non-scaling-stroke" xml:space="preserve">C</text>
<text transform="matrix(0.24844 0 0 0.34478 2479.206 688.255)" font-size="100" fill="#000" stroke="#fff" stroke-width="0.2" vector-effect="non-scaling-stroke" xml:space="preserve">O</text>
<text transform="matrix(0.26804 0 0 0.33282 2481.196 727.500)" font-size="100" fill="#000" stroke="#fff" stroke-width="0.2" vector-effect="non-scaling-stroke" xml:space="preserve">P</text>
</g>
<g font-family="Liberation Serif, serif">
<text transform="matrix(0.73617 0 0 0.81069 72.564 187.805)" font-size="100" font-weight="bold" fill="#000" xml:space="preserve">A</text>
<text transform="matrix(0.72800 0 0 0.79542 1326.908 185.500)" font-size="100" font-weight="bold" fill="#000" xml:space="preserve">B</text>
</g>
</svg>
</body>
</html>
